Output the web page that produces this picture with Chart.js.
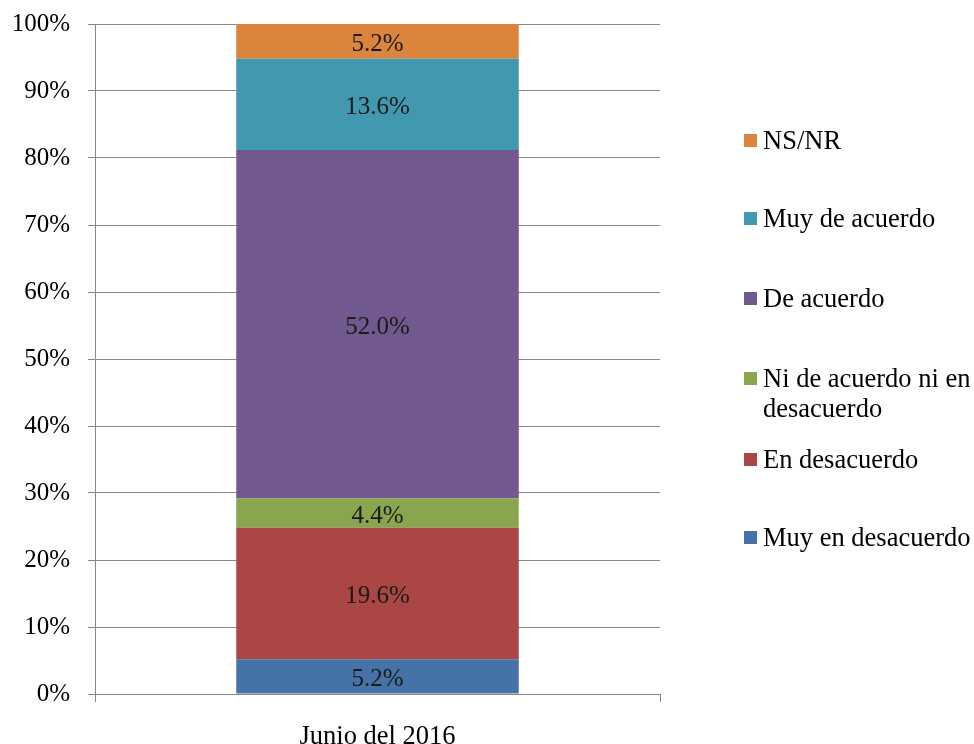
<!DOCTYPE html>
<html>
<head>
<meta charset="utf-8">
<script src="https://cdn.jsdelivr.net/npm/chart.js@4"></script>
<style>
  body { margin: 0; background: #fff; }
  #wrap { position: relative; width: 974px; height: 744px; }
  #legend { position: absolute; left: 744px; top: 0; font-family: "Liberation Serif", serif; font-size: 26.5px; color: #000; }
  .item { position: absolute; left: 0; width: 230px; display: flex; align-items: flex-start; line-height: 30px; }
  .sw { width: 13px; height: 13px; margin-top: 9px; margin-right: 6px; flex: none; }
</style>
</head>
<body>
<div id="wrap">
  <canvas id="chart" width="974" height="744"></canvas>
  <div id="legend"></div>
</div>
<script>
const categories = ['Junio del 2016'];
const seriesNames = ['Muy en desacuerdo', 'En desacuerdo', 'Ni de acuerdo ni en desacuerdo', 'De acuerdo', 'Muy de acuerdo', 'NS/NR'];
const seriesValues = [5.2, 19.6, 4.4, 52.0, 13.6, 5.2];
const seriesColors = ['#4572A7', '#AA4643', '#89A54E', '#71588F', '#4198AF', '#DB843D'];
const legendTops = [522, 444, 363, 283, 203, 125];

const font = "Liberation Serif";

// value labels in the middle of each stacked segment
const valueLabels = {
  id: 'valueLabels',
  afterDatasetsDraw(chart) {
    const ctx = chart.ctx;
    ctx.save();
    ctx.font = '25px "' + font + '"';
    ctx.fillStyle = '#1a1a1a';
    ctx.textAlign = 'center';
    ctx.textBaseline = 'middle';
    chart.data.datasets.forEach((ds, i) => {
      const bar = chart.getDatasetMeta(i).data[0];
      ctx.fillText(ds.data[0].toFixed(1) + '%', bar.x, (bar.y + bar.base) / 2 + 3);
    });
    ctx.restore();
  }
};

new Chart(document.getElementById('chart'), {
  type: 'bar',
  data: {
    labels: categories,
    datasets: seriesNames.map((name, i) => ({
      label: name,
      data: [seriesValues[i]],
      backgroundColor: seriesColors[i],
      borderWidth: 0,
      barPercentage: 1,
      categoryPercentage: 0.5
    }))
  },
  options: {
    responsive: false,
    animation: false,
    layout: { padding: { top: 24, right: 314, left: 0, bottom: 0 } },
    plugins: { legend: { display: false }, tooltip: { enabled: false } },
    scales: {
      x: {
        stacked: true,
        grid: { drawOnChartArea: false, color: '#868686', tickLength: 8 },
        border: { color: '#868686' },
        ticks: { color: '#000', font: { family: font, size: 26.5 }, padding: 19 },
        afterFit: s => { s.height = 50; s.paddingLeft = 0; s.paddingRight = 0; }
      },
      y: {
        stacked: true,
        min: 0,
        max: 100,
        grid: { color: '#868686', tickLength: 7 },
        border: { color: '#868686' },
        ticks: { stepSize: 10, color: '#000', font: { family: font, size: 25 }, padding: 18, callback: v => v + '%' },
        afterFit: s => { s.width = 95; s.paddingTop = 0; s.paddingBottom = 0; }
      }
    }
  },
  plugins: [valueLabels]
});

const legend = document.getElementById('legend');
seriesNames.forEach((name, i) => {
  const item = document.createElement('div');
  item.className = 'item';
  item.style.top = legendTops[i] + 'px';
  item.innerHTML = '<span class="sw" style="background:' + seriesColors[i] + '"></span><span>' + name + '</span>';
  legend.appendChild(item);
});
</script>
</body>
</html>
